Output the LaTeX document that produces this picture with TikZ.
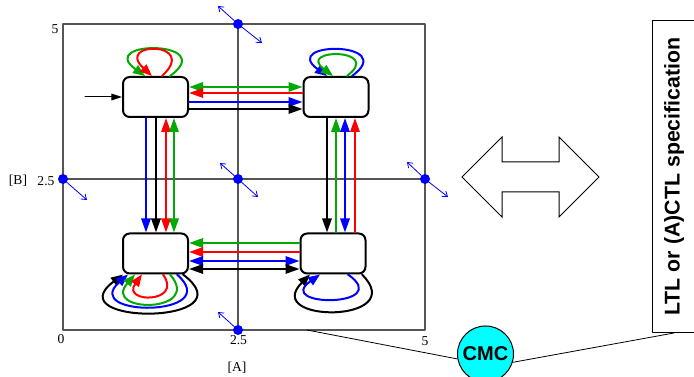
\documentclass[tikz,border=0pt]{standalone}
\usepackage{fontspec}
\setmainfont{Liberation Serif}
\setsansfont{Liberation Sans}
\usepackage{tikz}
\usetikzlibrary{arrows.meta,calc}
\definecolor{trgreen}{HTML}{00AA00}
\definecolor{trred}{HTML}{FF0000}
\definecolor{trblue}{HTML}{0000FF}
\definecolor{gridgray}{HTML}{555555}
\definecolor{cmccyan}{HTML}{00FFFF}
\tikzset{
    every picture/.style={line cap=round,line join=round},
    statebox/.style={draw=black,fill=white,line width=1.5pt,rounded corners=5pt,
      minimum width=48.75pt,minimum height=30pt,inner sep=0pt,outer sep=0.75pt},
    trans/.style={line width=1.5pt},
    selfloop/.style={line width=1.5pt,-{Triangle[length=9pt,width=7pt]}},
    gridline/.style={draw=gridgray,line width=1.1pt},
    dotnode/.style={circle,fill=trblue,inner sep=0pt,minimum size=7.5pt},
    flowvec/.style={draw=trblue,line width=0.6pt,
      -{Straight Barb[length=3.5pt,width=5pt]}},
    axislabel/.style={font=\fontsize{10.2}{12}\selectfont,inner sep=0pt},
    initarrow/.style={draw=black,line width=0.75pt,
      -{Triangle[length=8pt,width=5pt]}},
    cmcnode/.style={circle,draw=black,fill=cmccyan,line width=0.75pt,
      minimum size=42pt,inner sep=0pt,
      font=\sffamily\bfseries\fontsize{15}{18}\selectfont},
    specbox/.style={draw=black,fill=white,line width=0.75pt,
      minimum width=234pt,minimum height=32.25pt,inner sep=0pt,
      font=\sffamily\bfseries\fontsize{16}{19}\selectfont},
    linkline/.style={draw=black,line width=0.6pt},
    bigarrow/.style={draw=black,fill=white,line width=0.75pt,line join=miter}
}

\begin{document}
\begin{tikzpicture}[x=0.75pt,y=-0.75pt,>={Triangle[length=10.5pt,width=7pt]}]
  \useasboundingbox (0,0) rectangle (694,377);

  % frame and quadrant lines
  \draw[gridline] (63,24) rectangle (425,330);
  \draw[gridline] (238,24) -- (238,330);
  \draw[gridline] (63,179) -- (425,179);

  % axis labels
  \node[axislabel] (yfive) at (55,29) {5};
  \node[axislabel] (ymid) at (46,181) {2.5};
  \node[axislabel] (ylab) at (18,181) {[B]};
  \node[axislabel] (xzero) at (61,339) {0};
  \node[axislabel] (xmid) at (238.5,340) {2.5};
  \node[axislabel] (xfive) at (425,341) {5};
  \node[axislabel] (xlab) at (237,368) {[A]};

  % sample points with their flow vectors
  \node[dotnode] (ptop) at (238,24) {};
  \node[dotnode] (pleft) at (63,179) {};
  \node[dotnode] (pmid) at (238,179) {};
  \node[dotnode] (pright) at (425,179) {};
  \node[dotnode] (pbot) at (238,330) {};
  \coordinate (vtopa) at (218,6);
  \coordinate (vtopb) at (262,43);
  \coordinate (vleft) at (87,200);
  \coordinate (vmida) at (220,163);
  \coordinate (vmidb) at (258,197);
  \coordinate (vrighta) at (407,162);
  \coordinate (vrightb) at (448,197);
  \coordinate (vbot) at (218,312);
  \draw[flowvec] (ptop) -- (vtopa);
  \draw[flowvec] (ptop) -- (vtopb);
  \draw[flowvec] (pleft) -- (vleft);
  \draw[flowvec] (pmid) -- (vmida);
  \draw[flowvec] (pmid) -- (vmidb);
  \draw[flowvec] (pright) -- (vrighta);
  \draw[flowvec] (pright) -- (vrightb);
  \draw[flowvec] (pbot) -- (vbot);

  % discrete states
  \node[statebox] (st01) at (155.5,97) {};
  \node[statebox] (st11) at (336,97) {};
  \node[statebox] (st00) at (155.5,253.5) {};
  \node[statebox] (st10) at (333,253.5) {};

  \coordinate (init) at (85,97);
  \draw[initarrow] (init) -- (st01.west);

  % left column
  \draw[trans,trblue,->] ($(st01.south)+(-9.5,0)$) -- ($(st00.north)+(-9.5,0)$);
  \draw[trans,black,->] ($(st01.south)+(0.5,0)$) -- ($(st00.north)+(0.5,0)$);
  \draw[trans,trred,<->] ($(st01.south)+(10.5,0)$) -- ($(st00.north)+(10.5,0)$);
  \draw[trans,trgreen,<->] ($(st01.south)+(18.5,0)$) -- ($(st00.north)+(18.5,0)$);
  % right column
  \draw[trans,black,->] ($(st11.south)+(-9,0)$) -- ($(st11.south |- st10.north)+(-9,0)$);
  \draw[trans,trgreen,<-] ($(st11.south)+(0,0)$) -- ($(st11.south |- st10.north)+(0,0)$);
  \draw[trans,trblue,<->] ($(st11.south)+(9,0)$) -- ($(st11.south |- st10.north)+(9,0)$);
  \draw[trans,trred,<-] ($(st11.south)+(19,0)$) -- ($(st11.south |- st10.north)+(19,0)$);
  % top row
  \draw[trans,trgreen,<->] ($(st01.east)+(0,-10)$) -- ($(st11.west)+(0,-10)$);
  \draw[trans,trred,<-] ($(st01.east)+(0,-4)$) -- ($(st11.west)+(0,-4)$);
  \draw[trans,trblue,->] ($(st01.east)+(0,5)$) -- ($(st11.west)+(0,5)$);
  \draw[trans,black,->] ($(st01.east)+(0,12)$) -- ($(st11.west)+(0,12)$);
  % bottom row
  \draw[trans,trgreen,<-] ($(st00.east)+(0,-10.5)$) -- ($(st10.west)+(0,-10.5)$);
  \draw[trans,trred,<-] ($(st00.east)+(0,-1.5)$) -- ($(st10.west)+(0,-1.5)$);
  \draw[trans,trblue,<->] ($(st00.east)+(0,7.5)$) -- ($(st10.west)+(0,7.5)$);
  \draw[trans,black,<->] ($(st00.east)+(0,15.5)$) -- ($(st10.west)+(0,15.5)$);

  % self loops
  \draw[selfloop,trgreen] ($(st01.north)+(14.5,0)$) .. controls +(50,-36) and +(-50,-36) .. ($(st01.north)+(-10.5,0)$);
  \draw[selfloop,trred] ($(st01.north)+(6.5,0)$) .. controls +(38,-35) and +(-38,-35) .. ($(st01.north)+(-3.5,0)$);
  \draw[selfloop,trblue] ($(st11.north)+(16,0)$) .. controls +(48,-35) and +(-48,-35) .. ($(st11.north)+(-9,0)$);
  \draw[selfloop,trgreen] ($(st11.north)+(11,0)$) .. controls +(37,-28) and +(-37,-28) .. ($(st11.north)+(-3,0)$);
  \draw[selfloop,black] ($(st00.south)+(27.5,0)$) .. controls +(68,51) and +(-68,51) .. ($(st00.south)+(-32.5,0)$);
  \draw[selfloop,trblue] ($(st00.south)+(21.5,0)$) .. controls +(49,43) and +(-49,43) .. ($(st00.south)+(-27.5,0)$);
  \draw[selfloop,trgreen] ($(st00.south)+(14.5,0)$) .. controls +(34,39) and +(-34,39) .. ($(st00.south)+(-20.5,0)$);
  \draw[selfloop,trred] ($(st00.south)+(7.5,0)$) .. controls +(21,29) and +(-21,29) .. ($(st00.south)+(-13.5,0)$);
  \draw[selfloop,black] ($(st10.south)+(29,0)$) .. controls +(49,49) and +(-49,49) .. ($(st10.south)+(-23,0)$);
  \draw[selfloop,trblue] ($(st10.south)+(15,0)$) .. controls +(47,33) and +(-47,33) .. ($(st10.south)+(-13,0)$);

  % equivalence arrow
  \draw[bigarrow] (462,177) -- (502,137) -- (502,162) -- (559,162) -- (559,137)
    -- (599,177) -- (559,217) -- (559,192) -- (502,192) -- (502,217) -- cycle;

  % checker and specification
  \node[specbox,rotate=90] (spec) at (674,176.5) {LTL or (A)CTL specification};
  \node[cmcnode] (cmc) at (485.5,354) {CMC};
  \coordinate (tap) at (307,330);
  \draw[linkline] (tap) -- (cmc.190);
  \draw[linkline] (cmc.343) -- (spec.west);
\end{tikzpicture}
\end{document}
